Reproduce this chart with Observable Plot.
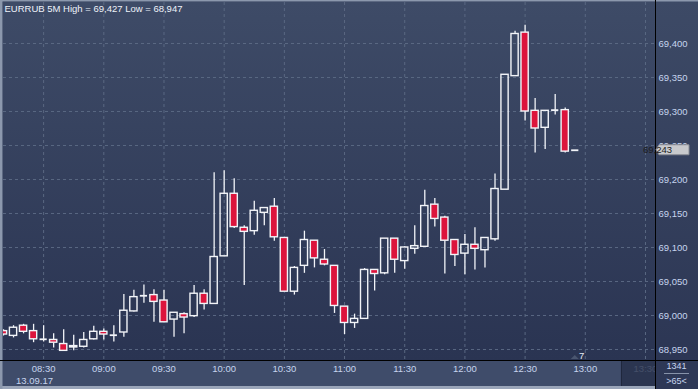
<!DOCTYPE html>
<html><head><meta charset="utf-8">
<script src="https://cdn.jsdelivr.net/npm/d3@7"></script>
<script src="https://cdn.jsdelivr.net/npm/@observablehq/plot@0.6"></script>
<style>
html,body{margin:0;padding:0;background:#2f3a56;}
#chart svg{display:block;}
</style></head><body><div id="chart"></div>
<script>
// ---- data (EURRUB, 5-minute candles, 13.09.17) ----
const day = "2017-09-13";
const times = ["08:10","08:15","08:20","08:25","08:30","08:35","08:40","08:45","08:50","08:55",
"09:00","09:05","09:10","09:15","09:20","09:25","09:30","09:35","09:40","09:45","09:50","09:55",
"10:00","10:05","10:10","10:15","10:20","10:25","10:30","10:35","10:40","10:45","10:50","10:55",
"11:00","11:05","11:10","11:15","11:20","11:25","11:30","11:35","11:40","11:45","11:50","11:55",
"12:00","12:05","12:10","12:15","12:20","12:25","12:30","12:35","12:40","12:45","12:50","12:55"];
const open  = [68.977,68.970,68.985,68.977,68.965,68.964,68.958,68.953,68.954,68.965,
68.976,68.971,68.975,69.006,69.029,69.030,69.022,68.994,69.002,68.999,69.032,69.017,
69.087,69.179,69.129,69.124,69.151,69.160,69.114,69.035,69.073,69.110,69.082,69.073,
69.013,68.989,68.995,69.067,69.062,69.113,69.080,69.098,69.101,69.163,69.144,69.111,
69.091,69.104,69.096,69.112,69.185,69.352,69.416,69.301,69.276,69.302,69.302,69.243];
const high  = [68.979,68.985,68.987,68.987,68.985,68.973,68.979,68.971,68.975,68.984,
68.980,68.985,69.031,69.037,69.045,69.038,69.037,69.004,69.004,69.044,69.038,69.210,
69.213,69.201,69.132,69.168,69.158,69.172,69.114,69.072,69.124,69.110,69.097,69.073,
69.013,69.002,69.069,69.067,69.113,69.113,69.101,69.132,69.184,69.172,69.146,69.111,
69.119,69.129,69.114,69.208,69.354,69.418,69.427,69.319,69.301,69.325,69.305,69.243];
const low   = [68.970,68.967,68.973,68.960,68.961,68.952,68.947,68.948,68.952,68.964,
68.964,68.961,68.968,69.005,69.018,68.990,68.990,68.968,68.973,68.997,69.008,69.017,
69.087,69.128,69.044,69.118,69.132,69.109,69.035,69.030,69.062,69.070,69.073,69.003,
68.972,68.981,68.995,69.036,69.060,69.062,69.068,69.090,69.101,69.130,69.061,69.072,
69.060,69.067,69.070,69.109,69.185,69.352,69.286,69.239,69.244,69.295,69.239,69.243];
const close = [68.972,68.982,68.976,68.965,68.965,68.960,68.948,68.955,68.964,68.976,
68.972,68.971,69.007,69.027,69.029,69.020,68.990,69.004,68.997,69.032,69.017,69.086,
69.179,69.130,69.123,69.154,69.158,69.115,69.035,69.070,69.111,69.084,69.075,69.014,
68.989,68.995,69.067,69.061,69.113,69.082,69.100,69.102,69.161,69.142,69.110,69.089,
69.104,69.098,69.114,69.186,69.354,69.414,69.300,69.275,69.301,69.302,69.241,69.243];

const priceTicks = [68.95,69.00,69.05,69.10,69.15,69.20,69.25,69.30,69.35,69.40];
const timeTicks = ["08:30","09:00","09:30","10:00","10:30","11:00","11:30","12:00","12:30","13:00","13:30"];
const titleText = "EURRUB 5M High = 69,427 Low = 68,947";
const dateText = "13.09.17";
const lastPrice = 69.243;
const cornerTop = "1341", cornerBottom = ">65<", markerCount = "7";
const xDomain = ["08:10","13:35"];
const yDomain = [68.9338, 69.4603];

// ---- build ----
const T = s => new Date(`${day}T${s}:00Z`);
const data = times.map((t,i)=>({t:T(t), o:open[i], h:high[i], l:low[i], c:close[i]}));
const HW = 1.8*60000;
const fmt = v => v.toFixed(3).replace(".", ",");
const W=698, H=389, mL=3, mR=43, mT=2, mB=29;
const WHITE = "#f2f4f8", RED = "#dc143c";
const FONT = "'Liberation Sans', Arial, sans-serif";

const up = data.filter(d=>d.c>d.o), down = data.filter(d=>d.c<d.o), flat = data.filter(d=>d.c===d.o);
const lx = d=>new Date(+d.t-HW), rx = d=>new Date(+d.t+HW);

const chart = Plot.plot({
  width:W, height:H, marginLeft:mL, marginRight:mR, marginTop:mT, marginBottom:mB,
  style:{background:"transparent", fontFamily:FONT, fontSize:"9px", color:"#c6d4ee", overflow:"visible"},
  x:{type:"utc", domain:xDomain.map(T)},
  y:{domain:yDomain},
  marks:[
    Plot.gridX(timeTicks.map(T), {stroke:"#5a6882", strokeOpacity:1, strokeDasharray:"3,3"}),
    Plot.gridY(priceTicks, {stroke:"#5a6882", strokeOpacity:1, strokeDasharray:"3,3"}),
    Plot.ruleX(data, {x:"t", y1:d=>Math.max(d.o,d.c), y2:"h", stroke:WHITE, strokeWidth:1.3, clip:true}),
    Plot.ruleX(data, {x:"t", y1:"l", y2:d=>Math.min(d.o,d.c), stroke:WHITE, strokeWidth:1.3, clip:true}),
    Plot.rect(up, {x1:lx, x2:rx, y1:"o", y2:"c", fill:"none", stroke:WHITE, strokeWidth:1.4, clip:true}),
    Plot.rect(down, {x1:lx, x2:rx, y1:"o", y2:"c", fill:RED, stroke:WHITE, strokeWidth:1.4, clip:true}),
    Plot.ruleY(flat, {y:"o", x1:lx, x2:rx, stroke:WHITE, strokeWidth:1.8, clip:true}),
    Plot.axisX(timeTicks.map(T), {anchor:"bottom", tickSize:0, tickPadding:5, tickFormat:d3.utcFormat("%H:%M"), fill:"#c6d4ee", fontSize:9.5}),
    Plot.axisY(priceTicks, {anchor:"right", tickSize:0, tickPadding:3, textAnchor:"start", tickFormat:fmt, fill:"#c6d4ee", fontSize:9.5}),
    Plot.text([titleText], {frameAnchor:"top-left", dx:1, dy:6, textAnchor:"start", lineAnchor:"middle", fill:"#eef2fa", fontSize:9.5}),
    Plot.text([dateText], {frameAnchor:"bottom-left", dx:31, dy:20, textAnchor:"middle", lineAnchor:"middle", fill:"#c6d4ee", fontSize:9.5})
  ]
});
document.getElementById("chart").appendChild(chart);

// ---- panels / decorations positioned through the scales ----
const sx = chart.scale("x"), sy = chart.scale("y");
const svg = d3.select(chart);
const x0 = mL, x1 = W-mR, y0 = mT, y1 = H-mB;
const defs = svg.insert("defs", ":first-child");
const g1 = defs.append("linearGradient").attr("id","bgPlot").attr("x1",0).attr("x2",0).attr("y1",0).attr("y2",1);
g1.append("stop").attr("offset","0%").attr("stop-color","#3e4b67");
g1.append("stop").attr("offset","100%").attr("stop-color","#2a3452");
const g2 = defs.append("linearGradient").attr("id","bgAxis").attr("x1",0).attr("x2",0).attr("y1",0).attr("y2",1);
g2.append("stop").attr("offset","0%").attr("stop-color","#3d4a66");
g2.append("stop").attr("offset","100%").attr("stop-color","#2c3654");
const bg = svg.insert("g", "defs + *");
bg.append("rect").attr("x",0).attr("y",0).attr("width",W).attr("height",H).attr("fill","#2f3a56");
bg.append("rect").attr("x",x0).attr("y",y0).attr("width",x1-x0).attr("height",y1-y0).attr("fill","url(#bgPlot)");
bg.append("rect").attr("x",x1).attr("y",0).attr("width",W-x1).attr("height",y1).attr("fill","url(#bgAxis)");
bg.append("rect").attr("x",0).attr("y",y1).attr("width",x1).attr("height",H-y1).attr("fill","#3f4c6a");

const fg = svg.append("g");
// dimmed scroll area at right end of time axis
const xs = sx.apply(T("13:30")) - 24;
fg.append("rect").attr("x",xs).attr("y",y1+1).attr("width",x1-xs).attr("height",25).attr("fill","#27314b").attr("fill-opacity",0.82);
fg.append("line").attr("x1",xs+0.5).attr("x2",xs+0.5).attr("y1",y1+1).attr("y2",y1+26).attr("stroke","#1f283d");
// corner
fg.append("rect").attr("x",x1).attr("y",y1).attr("width",W-x1).attr("height",H-y1).attr("fill","#2e3856");
fg.append("text").attr("x",(x1+W)/2).attr("y",366).attr("text-anchor","middle").attr("dominant-baseline","central")
  .attr("font-family",FONT).attr("font-size",9).attr("fill","#c6d4ee").text(cornerTop);
fg.append("line").attr("x1",664).attr("x2",689).attr("y1",373.5).attr("y2",373.5).attr("stroke","#8793aa");
fg.append("text").attr("x",(x1+W)/2).attr("y",380.5).attr("text-anchor","middle").attr("dominant-baseline","central")
  .attr("font-family",FONT).attr("font-size",9).attr("fill","#c6d4ee").text(cornerBottom);
// bottom light strip and borders
fg.append("rect").attr("x",0).attr("y",386).attr("width",x1).attr("height",3).attr("fill","#9aa5b9");
fg.append("rect").attr("x",0).attr("y",0).attr("width",W).attr("height",1.5).attr("fill","#8c98ad");
fg.append("rect").attr("x",0).attr("y",0).attr("width",2.5).attr("height",H).attr("fill","#8c98ad");
fg.append("line").attr("x1",x1+0.5).attr("x2",x1+0.5).attr("y1",0).attr("y2",H).attr("stroke","#000");
fg.append("line").attr("x1",0).attr("x2",W).attr("y1",y1+0.5).attr("y2",y1+0.5).attr("stroke","#000");
// last price marker
const py = sy.apply(lastPrice);
fg.append("path").attr("d",`M${x1+1},${py} L${x1+4},${py-5} L${x1+34},${py-5} L${x1+34},${py+5} L${x1+4},${py+5} Z`)
  .attr("fill","#c8c9cc").attr("stroke","#8a8d94");
fg.append("text").attr("x",x1+2.5).attr("y",py).attr("dominant-baseline","central")
  .attr("font-family",FONT).attr("font-size",9.5).attr("fill","#1c1c1c").text(fmt(lastPrice));
// small count marker
const mx = sx.apply(T(times[times.length-1]));
fg.append("path").attr("d",`M${mx-4},${y1-1} L${mx},${y1-5} L${mx+4},${y1-1} Z`).attr("fill","#4a5670");
fg.append("text").attr("x",mx+7).attr("y",y1-1.5).attr("font-family",FONT).attr("font-size",9.5).attr("fill","#e6ecf6").text(markerCount);
</script></body></html>
